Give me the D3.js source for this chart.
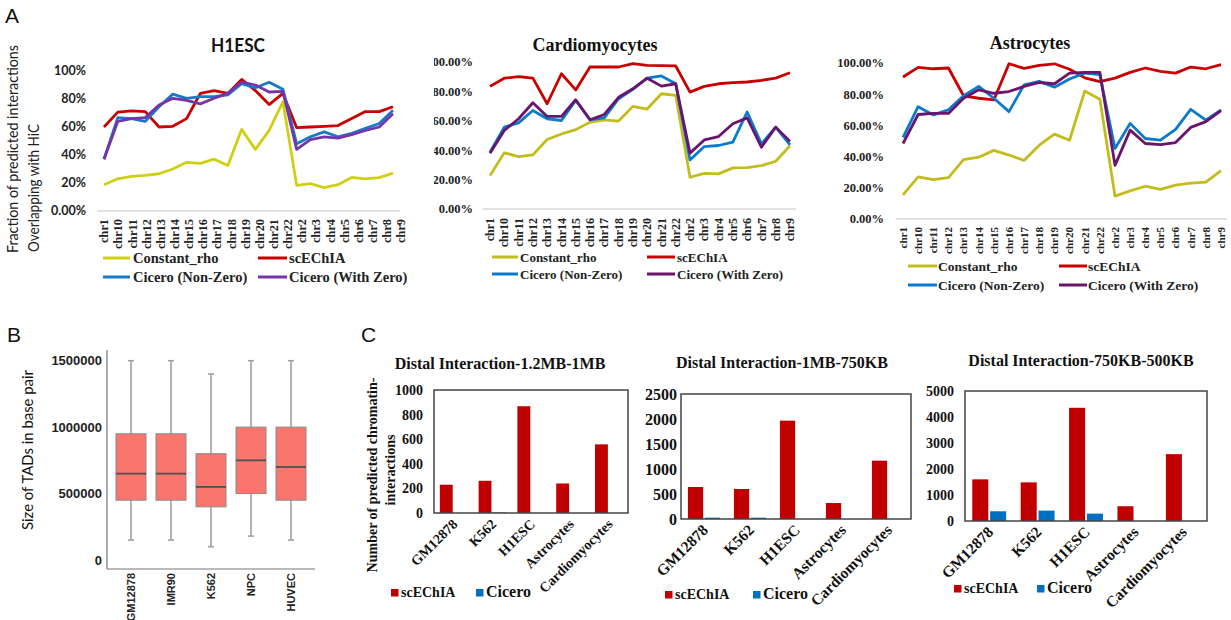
<!DOCTYPE html>
<html><head><meta charset="utf-8">
<script src="https://cdn.jsdelivr.net/npm/d3@7"></script>
<style>body{margin:0;background:#fff;} svg{display:block;}</style>
</head><body>
<svg id="chart" width="1231" height="620"></svg>
<script>
// ---------------- DATA ----------------
const chromosomes = ["chr1","chr10","chr11","chr12","chr13","chr14","chr15","chr16","chr17","chr18","chr19","chr20","chr21","chr22","chr2","chr3","chr4","chr5","chr6","chr7","chr8","chr9"];
const seriesNames = ["Constant_rho","scEChIA","Cicero (Non-Zero)","Cicero (With Zero)"];
const pctTicks = [0,20,40,60,80,100];
const h1escTickLabels = ["0.00%","20%","40%","60%","80%","100%"];
const pctTickLabels = ["0.00%","20.00%","40.00%","60.00%","80.00%","100.00%"];

const h1escConstantRho = [18.8,23,24.7,25.4,26.6,30,34.8,34,37,32.5,58.3,44,57.6,78,18.3,19.5,16.7,18.8,24,23,23.8,27];
const h1escScEChIA     = [60,70.6,71.5,71,60,60.5,66,84,86,84,94,86,76,84,59.5,60,60.5,61,66,71,71,74.5];
const h1escCiceroNZ    = [37,66.7,66,64,74.5,83.5,80.5,81.7,81.7,83,91,88,92,87,48,53,56.5,53,55.5,59,62.5,72];
const h1escCiceroWZ    = [37,64,66,66.7,75.7,80.5,79,76.5,80.5,84,92,90,85,85.5,44,51,53,52,54.5,57.5,60,69.5];

const cardioConstantRho = [22.7,38.2,35.7,36.8,47.3,51,54,59,60.6,59.8,69.8,68,78.4,77.3,21.6,24.3,23.9,28,28.2,29.5,32.5,43];
const cardioScEChIA     = [83.4,89,90,89,71.6,92,81,96.6,96.6,96.6,98.9,97.7,97.5,97.3,79.5,83.4,85.2,86,86.4,87.5,89,92.7];
const cardioCiceroNZ    = [38.6,55.7,58.6,67,61.4,60.2,73.9,60.7,62,75,81.4,89,90.5,85.2,33.4,42.5,43.2,45.5,66,44.3,55.7,43.6];
const cardioCiceroWZ    = [38,53.4,61.4,72.3,63,63,74.3,60.7,64.3,76,81.8,89,83.6,85.2,38,47,49.3,58,62,42,55.7,46];

const astroConstantRho = [15.4,27,25.3,26.5,38,39.6,44,41,37.6,47.3,54.4,50.5,82,76.8,14.7,18,21,19,21.7,23,23.7,31];
const astroScEChIA     = [91,97.2,96.3,96.8,79,77.4,76.3,99.5,96.5,98.5,99.5,96,90.5,88,90.3,94,96.8,94.6,93.5,97.4,96.3,99];
const astroCiceroNZ    = [52.3,72,66.7,70,79,85,77.4,68.8,86,88.2,84.5,89.7,93.5,92.5,45.2,61.3,51.6,50.5,57.4,70.3,63.4,70];
const astroCiceroWZ    = [48.4,67,67.7,67.7,77.4,82.8,80.6,81.7,85,87.5,86.7,93.5,94,94,34.4,57,48.4,47.7,49,58.7,62.4,69.5];

const tadCells = ["GM12878","IMR90","K562","NPC","HUVEC"];
// [lower whisker, Q1, median, Q3, upper whisker]
const tadStats = [
  [150000,450000,650000,950000,1500000],
  [150000,450000,650000,950000,1500000],
  [100000,400000,550000,800000,1400000],
  [180000,500000,750000,1000000,1500000],
  [150000,450000,700000,1000000,1500000]
];
const tadTicks = [0,500000,1000000,1500000];

const distalCells = ["GM12878","K562","H1ESC","Astrocytes","Cardiomyocytes"];
const barSeries = ["scEChIA","Cicero"];
const d1ScEChIA = [230,262,868,240,558];
const d1Cicero  = [0,4,0,0,0];
const d2ScEChIA = [640,600,1967,320,1167];
const d2Cicero  = [27,27,0,0,0];
const d3ScEChIA = [1602,1486,4354,568,2571];
const d3Cicero  = [375,400,284,0,0];
const d1Ticks = [0,200,400,600,800,1000];
const d2Ticks = [0,500,1000,1500,2000,2500];
const d3Ticks = [0,1000,2000,3000,4000,5000];

// ---------------- DRAW ----------------
const svg = d3.select("#chart");
const SERIF = "'Liberation Serif','Times New Roman',serif";
const SANS = "'Liberation Sans',Arial,sans-serif";
const CAL = "Lato,'Open Sans',sans-serif";

// panel letters
[["A",5,23],["B",7,342],["C",361,342]].forEach(([t,x,y]) => {
  svg.append("text").attr("x",x).attr("y",y).text(t)
    .attr("font-family",SANS).attr("font-size",21).attr("fill","#111");
});

// A y title
svg.append("text").attr("transform","translate(13,253) rotate(-90)").attr("dy","0.35em")
  .attr("font-family",CAL).attr("font-size",14.5).attr("fill","#222")
  .attr("textLength",208).attr("lengthAdjust","spacingAndGlyphs")
  .text("Fraction of predicted interactions");
svg.append("text").attr("transform","translate(34,252) rotate(-90)").attr("dy","0.35em")
  .attr("font-family",CAL).attr("font-size",14.5).attr("fill","#222")
  .attr("textLength",128).attr("lengthAdjust","spacingAndGlyphs")
  .text("Overlapping with HiC");

const panelsA = [
  {id:"h1", title:"H1ESC", titleX:238, titleY:52, titleFont:CAL, titleSize:18, titleLen:54,
   data:[h1escConstantRho,h1escScEChIA,h1escCiceroNZ,h1escCiceroWZ],
   colors:["#CFCF14","#C80000","#1A78C8","#7634AA"],
   y0:211, y100:71, tickLabels:h1escTickLabels, tickX:86, tickFont:CAL, tickSize:12.5,
   base:[97,400], pts:[104,393], labs:[104,401], labTop:219, labSize:12.3,
   legRows:[258,277], legCols:[[103,130,133],[258,287,289]], legSize:14.5, clipX:null},
  {id:"cm", title:"Cardiomyocytes", titleX:595, titleY:51, titleFont:SERIF, titleSize:18, titleLen:null,
   data:[cardioConstantRho,cardioScEChIA,cardioCiceroNZ,cardioCiceroWZ],
   colors:["#C2BC1C","#C80000","#0A7ACC","#6B146E"],
   y0:209, y100:62, tickLabels:pctTickLabels, tickX:473, tickFont:SERIF, tickSize:12.5,
   base:[483,796], pts:[490,790], labs:[490,790], labTop:218, labSize:12,
   legRows:[257,274], legCols:[[492,518,520],[647,675,677]], legSize:13, clipX:434},
  {id:"as", title:"Astrocytes", titleX:1030, titleY:49, titleFont:SERIF, titleSize:18, titleLen:null,
   data:[astroConstantRho,astroScEChIA,astroCiceroNZ,astroCiceroWZ],
   colors:["#C2BC1C","#C80000","#0A7ACC","#6B146E"],
   y0:219, y100:63, tickLabels:pctTickLabels, tickX:884, tickFont:SERIF, tickSize:12.5,
   base:[896,1227], pts:[903,1221], labs:[903,1221], labTop:227, labSize:11,
   legRows:[266,285], legCols:[[908,937,938],[1059,1087,1088]], legSize:13.5, clipX:null}
];

const defs = svg.append("defs");
panelsA.forEach(p => {
  const g = svg.append("g");
  if (p.clipX !== null) {
    defs.append("clipPath").attr("id","clip-"+p.id).append("rect")
      .attr("x",p.clipX).attr("y",0).attr("width",1231).attr("height",620);
    g.attr("clip-path","url(#clip-"+p.id+")");
  }
  const y = d3.scaleLinear().domain([0,100]).range([p.y0,p.y100]);
  const xp = d3.scalePoint().domain(chromosomes).range(p.pts);
  const xl = d3.scalePoint().domain(chromosomes).range(p.labs);

  const tt = g.append("text").attr("x",p.titleX).attr("y",p.titleY).attr("text-anchor","middle")
    .attr("font-family",p.titleFont).attr("font-weight","bold").attr("font-size",p.titleSize)
    .attr("fill","#111").text(p.title);
  if (p.titleLen) tt.attr("textLength",p.titleLen).attr("lengthAdjust","spacingAndGlyphs");

  g.append("line").attr("x1",p.base[0]).attr("x2",p.base[1]).attr("y1",y(0)).attr("y2",y(0))
    .attr("stroke","#d9d9d9").attr("stroke-width",1.3);

  g.selectAll(".yt").data(pctTicks).join("text")
    .attr("x",p.tickX).attr("y",d=>y(d)).attr("dy","0.35em").attr("text-anchor","end")
    .attr("font-family",p.tickFont).attr("font-weight","bold").attr("font-size",p.tickSize)
    .attr("fill","#222").text((d,i)=>p.tickLabels[i]);

  g.selectAll(".xl").data(chromosomes).join("text")
    .attr("transform",d=>`translate(${xl(d)},${p.labTop}) rotate(-90)`)
    .attr("dy","0.35em").attr("text-anchor","end")
    .attr("font-family",SERIF).attr("font-weight","bold").attr("font-size",p.labSize)
    .attr("fill","#222").text(d=>d);

  const line = d3.line().x((d,i)=>xp(chromosomes[i])).y(d=>y(d));
  p.data.forEach((s,k) => {
    g.append("path").datum(s).attr("d",line).attr("fill","none")
      .attr("stroke",p.colors[k]).attr("stroke-width",2.8).attr("stroke-linejoin","round");
  });

  seriesNames.forEach((n,k) => {
    const row = p.legRows[Math.floor(k/2)], col = p.legCols[k%2];
    g.append("line").attr("x1",col[0]).attr("x2",col[1]).attr("y1",row).attr("y2",row)
      .attr("stroke",p.colors[k]).attr("stroke-width",3);
    g.append("text").attr("x",col[2]).attr("y",row).attr("dy","0.35em")
      .attr("font-family",SERIF).attr("font-weight","bold").attr("font-size",p.legSize)
      .attr("fill","#222").text(n);
  });
});

// ---------------- Panel B ----------------
(function(){
  const g = svg.append("g");
  const y = d3.scaleLinear().domain([0,1500000]).range([560,360.7]);
  const x = d3.scaleBand().domain(tadCells).range([111,311]).paddingInner(0.25).paddingOuter(0.125);
  g.append("line").attr("x1",107).attr("x2",107).attr("y1",350).attr("y2",569).attr("stroke","#777").attr("stroke-width",1.2);
  g.append("line").attr("x1",107).attr("x2",315).attr("y1",569).attr("y2",569).attr("stroke","#777").attr("stroke-width",1.2);
  g.selectAll(".bt").data(tadTicks).join("text")
    .attr("x",102).attr("y",d=>y(d)).attr("dy","0.35em").attr("text-anchor","end")
    .attr("font-family",SANS).attr("font-weight","bold").attr("font-size",13).attr("fill","#222")
    .text(d=>d3.format("d")(d));
  g.selectAll(".bx").data(tadCells).join("text")
    .attr("transform",d=>`translate(${x(d)+x.bandwidth()/2},573) rotate(-90)`)
    .attr("dy","0.35em").attr("text-anchor","end")
    .attr("font-family",SANS).attr("font-weight","bold").attr("font-size",11).attr("fill","#222")
    .text(d=>d);
  tadCells.forEach((c,i) => {
    const s = tadStats[i], cx = x(c)+x.bandwidth()/2;
    g.append("line").attr("x1",cx).attr("x2",cx).attr("y1",y(s[4])).attr("y2",y(s[3])).attr("stroke","#a0a0a0").attr("stroke-width",1.6);
    g.append("line").attr("x1",cx).attr("x2",cx).attr("y1",y(s[1])).attr("y2",y(s[0])).attr("stroke","#a0a0a0").attr("stroke-width",1.6);
    [s[0],s[4]].forEach(v => g.append("line").attr("x1",cx-3).attr("x2",cx+3).attr("y1",y(v)).attr("y2",y(v)).attr("stroke","#a0a0a0").attr("stroke-width",1.6));
    g.append("rect").attr("x",x(c)).attr("width",x.bandwidth()).attr("y",y(s[3])).attr("height",y(s[1])-y(s[3]))
      .attr("fill","#F8766D").attr("stroke","#8a8a8a").attr("stroke-width",1);
    g.append("line").attr("x1",x(c)).attr("x2",x(c)+x.bandwidth()).attr("y1",y(s[2])).attr("y2",y(s[2])).attr("stroke","#505050").attr("stroke-width",1.8);
  });
  g.append("text").attr("transform","translate(28,450) rotate(-90)").attr("dy","0.35em").attr("text-anchor","middle")
    .attr("font-family",CAL).attr("font-size",15).attr("fill","#111")
    .attr("textLength",160).attr("lengthAdjust","spacingAndGlyphs")
    .text("Size of TADs in base pair");
})();

// ---------------- Panel C ----------------
const panelsC = [
  {title:"Distal Interaction-1.2MB-1MB", titleX:500, titleY:369, sc:d1ScEChIA, ci:d1Cicero, ticks:d1Ticks, max:1000,
   frame:[434,390,628,513], tickX:423, tickSize:14, labSize:14, leg:[391,476], legY:597},
  {title:"Distal Interaction-1MB-750KB", titleX:782, titleY:368, sc:d2ScEChIA, ci:d2Cicero, ticks:d2Ticks, max:2500,
   frame:[681,394,911,519], tickX:677, tickSize:16, labSize:15.5, leg:[665,753], legY:599},
  {title:"Distal Interaction-750KB-500KB", titleX:1081, titleY:366, sc:d3ScEChIA, ci:d3Cicero, ticks:d3Ticks, max:5000,
   frame:[965,391,1207,521], tickX:954, tickSize:14, labSize:15.5, leg:[954,1037], legY:593}
];
const barColors = ["#C00000","#0070C0"];
panelsC.forEach(p => {
  const g = svg.append("g");
  const [L,T,R,B] = p.frame;
  const y = d3.scaleLinear().domain([0,p.max]).range([B,T]);
  const x0 = d3.scaleBand().domain(distalCells).range([L,R]).paddingInner(0.3).paddingOuter(0.15);
  const x1 = d3.scaleBand().domain(barSeries).range([0,x0.bandwidth()]).paddingInner(0.1);
  g.append("text").attr("x",p.titleX).attr("y",p.titleY).attr("text-anchor","middle")
    .attr("font-family",SERIF).attr("font-weight","bold").attr("font-size",16).attr("fill","#111").text(p.title);
  distalCells.forEach((c,i) => {
    [p.sc[i],p.ci[i]].forEach((v,k) => {
      if (v <= 0) return;
      g.append("rect").attr("x",x0(c)+x1(barSeries[k])).attr("width",x1.bandwidth())
        .attr("y",y(v)).attr("height",B-y(v)).attr("fill",barColors[k]);
    });
  });
  g.append("rect").attr("x",L).attr("y",T).attr("width",R-L).attr("height",B-T)
    .attr("fill","none").attr("stroke","#444").attr("stroke-width",1.5);
  g.selectAll(".ct").data(p.ticks).join("text")
    .attr("x",p.tickX).attr("y",d=>y(d)).attr("dy","0.35em").attr("text-anchor","end")
    .attr("font-family",SERIF).attr("font-weight","bold").attr("font-size",p.tickSize).attr("fill","#111").text(d=>d);
  g.selectAll(".cx").data(distalCells).join("text")
    .attr("transform",d=>`translate(${x0(d)+x0.bandwidth()/2+5},${B+12}) rotate(-45)`)
    .attr("text-anchor","end")
    .attr("font-family",SERIF).attr("font-weight","bold").attr("font-size",p.labSize).attr("fill","#111").text(d=>d);
  barSeries.forEach((n,k) => {
    g.append("rect").attr("x",p.leg[k]).attr("y",p.legY-8).attr("width",7.5).attr("height",7.5).attr("fill",barColors[k]);
    g.append("text").attr("x",p.leg[k]+10).attr("y",p.legY)
      .attr("font-family",SERIF).attr("font-weight","bold").attr("font-size",k===0?14:16).attr("fill","#111").text(n);
  });
});

// C y title
svg.append("text").attr("transform","translate(372,475) rotate(-90)").attr("dy","0.35em").attr("text-anchor","middle")
  .attr("font-family",SERIF).attr("font-weight","bold").attr("font-size",14).attr("fill","#111")
  .text("Number of predicted chromatin-");
svg.append("text").attr("transform","translate(390,470) rotate(-90)").attr("dy","0.35em").attr("text-anchor","middle")
  .attr("font-family",SERIF).attr("font-weight","bold").attr("font-size",14).attr("fill","#111")
  .text("interactions");
</script>
</body></html>
